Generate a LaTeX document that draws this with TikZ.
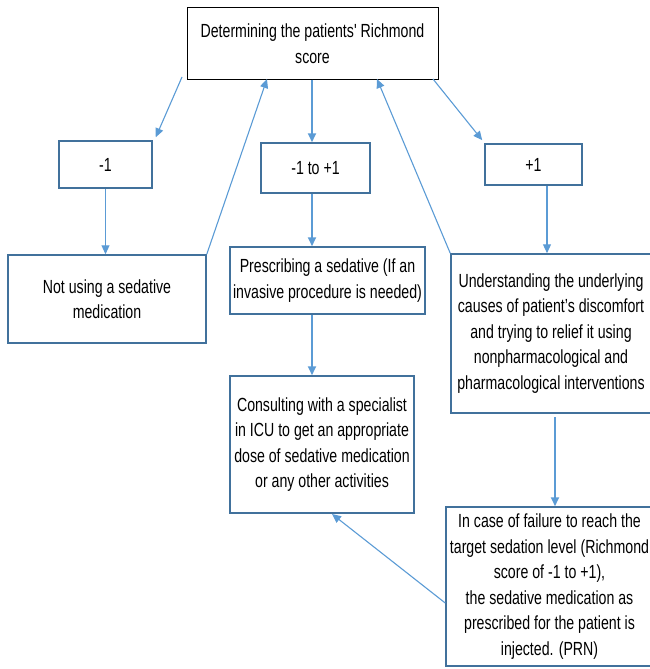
\documentclass[tikz,border=0pt]{standalone}
\usepackage{fontspec}
\setmainfont{Liberation Sans}[FakeStretch=0.745]
\newfontfamily\plainfont{Liberation Sans}[FakeStretch=0.745]
\usetikzlibrary{arrows.meta,calc}
\definecolor{linkblue}{HTML}{5B9BD5}
\definecolor{edgeblue}{HTML}{41719C}
\tikzset{
	box/.style={draw=edgeblue, line width=1.5pt, align=center, inner sep=0pt,
		font=\fontsize{19}{25.5}\selectfont},
	link/.style={draw=linkblue, line width=1.1pt, -{Triangle[length=9pt,width=8pt]}},
	thicklink/.style={link, line width=1.8pt}
}

\begin{document}
\begin{tikzpicture}[x=1pt,y=-1pt]
\useasboundingbox (0,0) rectangle (650,669);
\node[box, draw=black, line width=1pt, minimum width=251pt, minimum height=71pt] (top) at (312.5,43.5) {Determining the patients{\plainfont'} Richmond\\score};
\node[box, minimum width=93pt, minimum height=47pt] (minus) at (105.5,164.5) {-1};
\node[box, minimum width=109pt, minimum height=50pt] (range) at (315.5,168) {-1 to +1};
\node[box, minimum width=97pt, minimum height=41pt] (plus) at (533.5,164.5) {+1};
\node[box, minimum width=198pt, minimum height=88pt] (nosed) at (107,299) {Not using a sedative\\medication};
\node[box, minimum width=195pt, minimum height=67pt] (prescr) at (327.5,280.5) {Prescribing a sedative (If an\\invasive procedure is needed)};
\node[box, minimum width=200pt, minimum height=159pt] (underst) at (551,333.5) {Understanding the underlying\\causes of patient’s discomfort\\and trying to relief it using\\nonpharmacological and\\pharmacological interventions};
\node[box, minimum width=184pt, minimum height=137pt] (consult) at (322,444.5) {Consulting with a specialist\\in ICU to get an appropriate\\dose of sedative medication\\or any other activities};
\node[box, minimum width=207pt, minimum height=159pt] (failure) at (549.5,586.5) {In case of failure to reach the\\target sedation level (Richmond\\score of -1 to +1),\\the sedative medication as\\prescribed for the patient is\\injected. (PRN)};

% free ends of the connectors
\coordinate (outL) at (182,77);
\coordinate (inL) at (267,79);
\coordinate (inR) at (377,79);
\coordinate (outR) at (433,79);
\coordinate (midx) at (312,0);
\coordinate (plusx) at (547,0);
\coordinate (downx) at (555,417);

\draw[link] (outL) -- ([xshift=3pt,yshift=3pt]minus.north east);
\draw[link] (nosed.north east) -- (inL);
\draw[thicklink] (top.south -| midx) -- (range.north -| midx);
\draw[link] (underst.north west) -- (inR);
\draw[link] (outR) -- ([xshift=-2pt,yshift=3pt]plus.north west);
\draw[link] (minus.south) -- (minus.south |- nosed.north);
\draw[thicklink] (range.south -| midx) -- (prescr.north -| midx);
\draw[thicklink] (prescr.south -| midx) -- (consult.north -| midx);
\draw[link] (plus.south -| plusx) -- (underst.north -| plusx);
\draw[thicklink] (downx) -- (failure.north -| downx);
\draw[link] (failure.west |- 0,603) -- (332,514);
\end{tikzpicture}
\end{document}
